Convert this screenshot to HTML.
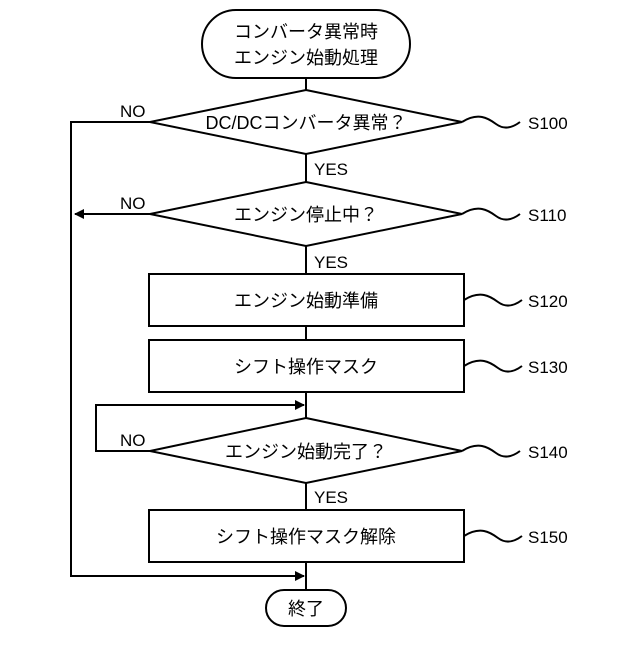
<!DOCTYPE html>
<html><head><meta charset="utf-8"><style>
html,body{margin:0;padding:0;background:#fff}
text{font-family:"Liberation Sans","Noto Sans CJK JP",sans-serif;fill:#000}
</style></head><body>
<svg width="640" height="640" viewBox="0 0 640 640" xmlns="http://www.w3.org/2000/svg">
<defs><marker id="a" markerWidth="10" markerHeight="10" refX="9" refY="5" orient="auto" markerUnits="userSpaceOnUse"><path d="M0,0 L10,5 L0,10 z" fill="#000"/></marker></defs>
<g stroke="#000" stroke-width="2" fill="none">
<rect x="202" y="10" width="208" height="68" rx="34" fill="#fff"/>
<line x1="306" y1="78" x2="306" y2="90"/>
<polygon points="306,90 462,122 306,154 150,122"/>
<line x1="306" y1="154" x2="306" y2="182"/>
<polygon points="306,182 462,214 306,246 150,214"/>
<line x1="306" y1="246" x2="306" y2="274"/>
<rect x="149" y="274" width="315" height="52"/>
<line x1="306" y1="326" x2="306" y2="340"/>
<rect x="149" y="340" width="315" height="52"/>
<line x1="306" y1="392" x2="306" y2="418"/>
<polygon points="306,418 462,451 306,483 150,451"/>
<line x1="306" y1="483" x2="306" y2="510"/>
<rect x="149" y="510" width="315" height="52"/>
<line x1="306" y1="562" x2="306" y2="590"/>
<rect x="266" y="590" width="80" height="36" rx="18"/>
<polyline points="150,122 71,122 71,576 304,576" marker-end="url(#a)"/>
<line x1="150" y1="214" x2="75" y2="214" marker-end="url(#a)"/>
<polyline points="150,451 96,451 96,405 304,405" marker-end="url(#a)"/>
<path d="M462,122 C478,112 488,118 496,124 C504,130 512,128 520,122"/>
<path d="M462,214 C478,204 488,210 496,216 C504,222 512,220 520,214"/>
<path d="M464,300 C480,290 490,296 498,302 C506,308 514,306 522,300"/>
<path d="M464,366 C480,356 490,362 498,368 C506,374 514,372 522,366"/>
<path d="M462,451 C478,441 488,447 496,453 C504,459 512,457 520,451"/>
<path d="M464,536 C480,526 490,532 498,538 C506,544 514,542 522,536"/>
</g>
<g font-size="18" text-anchor="middle">
<text x="306" y="38">コンバータ異常時</text>
<text x="306" y="64">エンジン始動処理</text>
<text x="306" y="129">DC/DCコンバータ異常？</text>
<text x="306" y="221">エンジン停止中？</text>
<text x="306" y="307">エンジン始動準備</text>
<text x="306" y="373">シフト操作マスク</text>
<text x="306" y="458">エンジン始動完了？</text>
<text x="306" y="543">シフト操作マスク解除</text>
<text x="306" y="615">終了</text>
</g>
<g font-size="17">
<text x="120" y="117">NO</text>
<text x="120" y="209">NO</text>
<text x="120" y="446">NO</text>
<text x="314" y="175">YES</text>
<text x="314" y="268">YES</text>
<text x="314" y="503">YES</text>
<text x="528" y="129">S100</text>
<text x="528" y="221">S110</text>
<text x="528" y="307">S120</text>
<text x="528" y="373">S130</text>
<text x="528" y="458">S140</text>
<text x="528" y="543">S150</text>
</g>
</svg>
</body></html>
